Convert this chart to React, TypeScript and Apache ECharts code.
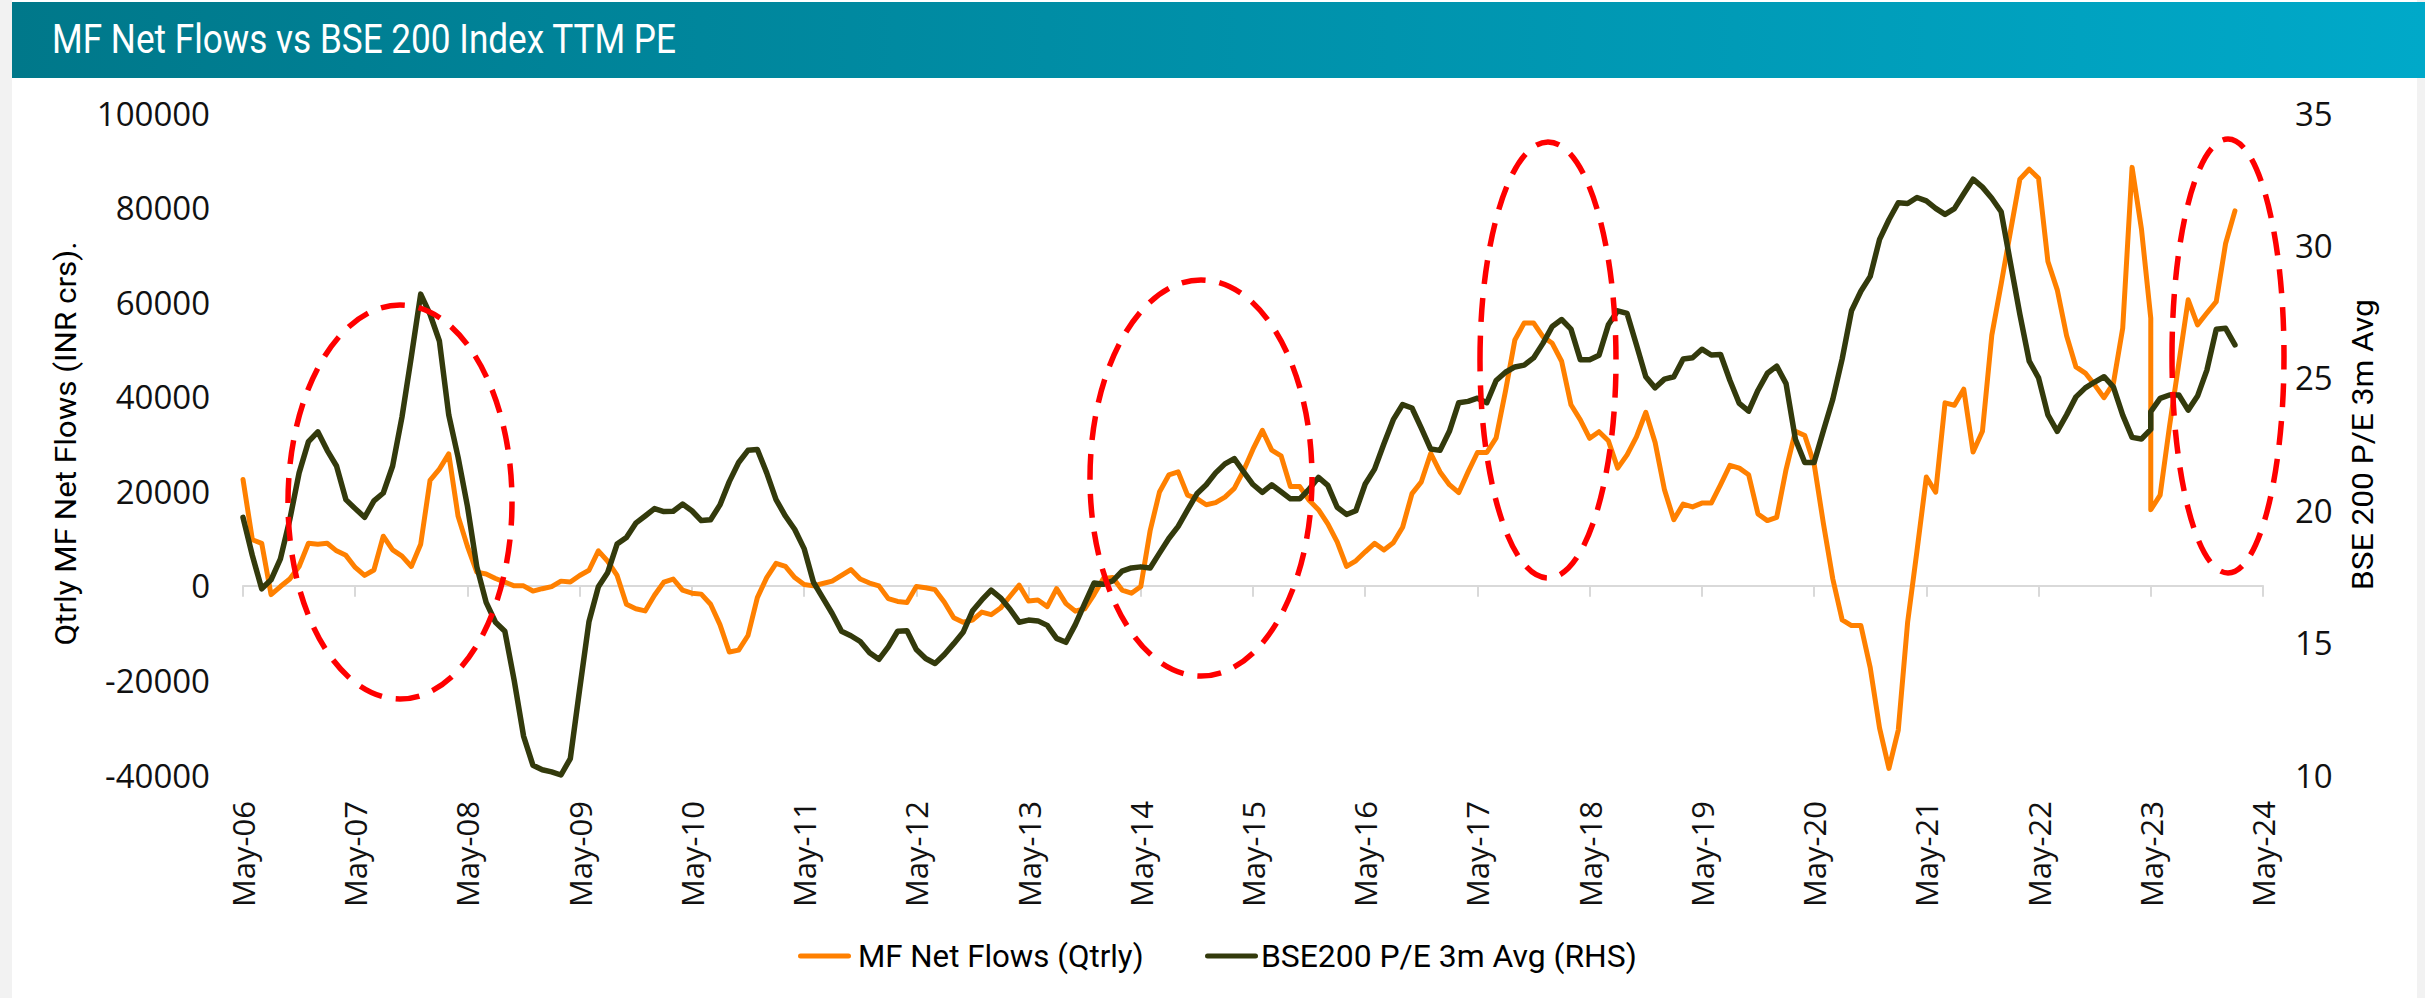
import React, { useEffect, useRef } from 'react';
import * as echarts from 'echarts';

const TITLE = 'MF Net Flows vs BSE 200 Index TTM PE';
const LEFT_AXIS_NAME = 'Qtrly MF Net Flows (INR crs).';
const RIGHT_AXIS_NAME = 'BSE 200 P/E 3m Avg';
const SERIES_NAMES = ['MF Net Flows (Qtrly)', 'BSE200 P/E 3m Avg (RHS)'];
const X_TICK_LABELS = [
  'May-06', 'May-07', 'May-08', 'May-09', 'May-10', 'May-11', 'May-12', 'May-13', 'May-14', 'May-15',
  'May-16', 'May-17', 'May-18', 'May-19', 'May-20', 'May-21', 'May-22', 'May-23', 'May-24',
];
const LEFT_RANGE = [-40000, 100000, 20000];
const RIGHT_RANGE = [10, 35, 5];

// Monthly observations May-2006 .. Feb-2024; May-2023 appears twice in the source data.
const FIRST_YEAR = 2006;
const FIRST_MONTH = 5;
const MONTH_COUNT = 214;
const REPEATED_MONTH = '2023-05';

// Quarterly MF net flows (INR crs), one row per calendar year
const flows = [
  22500, 9760, 9000, -1850, -150, 1450, 4100, 9000,
  8800, 9000, 7400, 6450, 3900, 2200, 3350, 10500, 7600, 6300, 4100, 8800,
  22300, 24700, 27900, 14700, 8350, 2900, 2500, 1550, 800, 0, 0, -1100,
  -600, -150, 1000, 800, 2200, 3300, 7400, 5200, 2200, -3900, -4850, -5300,
  -2000, 800, 1450, -900, -1550, -1750, -3900, -8200, -14000, -13600, -10500, -2500,
  1750, 4750, 4100, 1750, 300, 0, 500, 1000, 2200, 3450, 1450, 600,
  0, -2700, -3300, -3500, -150, -400, -800, -3450, -6750, -7700, -7250, -5550,
  -6100, -4700, -2250, 150, -3200, -3000, -4400, -600, -3750, -5350, -4850, -1850,
  1550, 1750, -900, -1550, -150, 11650, 19850, 23450, 24100, 19200, 18450, 17150,
  17600, 18750, 20600, 24400, 28900, 32900, 28700, 27500, 21000, 21000, 18100, 16100,
  13100, 9300, 4100, 5300, 7200, 9000, 7600, 9100, 12400, 19500, 22000, 28000,
  24100, 21400, 19700, 24100, 28200, 28200, 31300, 41200, 52000, 55600, 55600, 52700,
  51300, 47500, 38300, 35100, 31200, 32600, 30700, 24900, 27700, 31500, 36700, 30300,
  20300, 14000, 17300, 16700, 17500, 17500, 21400, 25500, 24900, 23500, 15200, 13800,
  14500, 24600, 32700, 31800, 25800, 13100, 1450, -7200, -8400, -8400, -17300, -30100,
  -38600, -30500, -7700, 7400, 23000, 19800, 38700, 38200, 41600, 28300, 32700, 53000,
  63800, 75000, 86000, 88100, 86200, 68600, 62600, 52900, 46300, 45000, 42500, 39800,
  42800, 54500, 88500, 75500, 56600, 16100, 19200, 33700, 47100, 60500, 55200, 57700, 60100,
  72400, 79300,
];

// BSE200 P/E, 3-month average
const pe = [
  19.73, 18.29, 17.03, 17.37, 18.16, 19.64, 21.41, 22.59,
  22.96, 22.26, 21.67, 20.4, 20.06, 19.73, 20.35, 20.65, 21.67, 23.52, 25.8, 28.16,
  27.4, 26.39, 23.6, 22.0, 20.15, 17.87, 16.52, 15.77, 15.43, 13.57, 11.47, 10.37,
  10.2, 10.12, 10.0, 10.62, 13.24, 15.8, 17.11, 17.65, 18.72, 18.97, 19.51, 19.78,
  20.06, 19.95, 19.96, 20.23, 19.98, 19.61, 19.64, 20.2, 21.08, 21.8, 22.26, 22.29,
  21.41, 20.4, 19.78, 19.27, 18.55, 17.28, 16.69, 16.1, 15.43, 15.26, 15.04, 14.62,
  14.37, 14.84, 15.43, 15.45, 14.74, 14.4, 14.21, 14.55, 14.96, 15.39, 16.19, 16.61,
  16.98, 16.69, 16.27, 15.77, 15.85, 15.82, 15.65, 15.16, 15.01, 15.68, 16.47, 17.25,
  17.2, 17.33, 17.7, 17.82, 17.86, 17.82, 18.38, 18.93, 19.39, 20.01, 20.62, 20.96,
  21.41, 21.75, 21.95, 21.45, 20.97, 20.67, 20.96, 20.7, 20.43, 20.43, 20.79, 21.24,
  20.94, 20.11, 19.84, 19.98, 20.99, 21.55, 22.51, 23.42, 23.99, 23.86, 23.1, 22.31,
  22.26, 22.98, 24.06, 24.11, 24.23, 24.06, 24.9, 25.21, 25.41, 25.48, 25.75, 26.3,
  26.94, 27.2, 26.84, 25.68, 25.68, 25.85, 27.0, 27.53, 27.43, 26.25, 25.04, 24.62,
  24.95, 25.04, 25.71, 25.76, 26.08, 25.86, 25.88, 24.9, 24.03, 23.74, 24.53, 25.17,
  25.44, 24.78, 22.68, 21.8, 21.8, 23.01, 24.19, 25.71, 27.53, 28.27, 28.83, 30.23,
  30.97, 31.61, 31.58, 31.81, 31.68, 31.4, 31.17, 31.39, 31.95, 32.5, 32.2, 31.78,
  31.27, 29.33, 27.4, 25.63, 25.0, 23.6, 22.98, 23.6, 24.28, 24.62, 24.84, 25.04,
  24.66, 23.59, 22.75, 22.69, 23.05, 23.72, 24.22, 24.35, 24.35, 23.78, 24.31, 25.29, 26.83,
  26.87, 26.24,
];

function buildDates(): string[] {
  const out: string[] = [];
  for (let i = 0; i < MONTH_COUNT; i++) {
    const t = FIRST_MONTH - 1 + i;
    const d = `${FIRST_YEAR + Math.floor(t / 12)}-${String((t % 12) + 1).padStart(2, '0')}`;
    out.push(d);
    if (d === REPEATED_MONTH) out.push(d);
  }
  return out;
}
const dates = buildDates();

function monthIndex(d: string): number {
  const [y, m] = d.split('-').map(Number);
  return (y - FIRST_YEAR) * 12 + (m - FIRST_MONTH);
}

function textWidth(text: string, font: string): number {
  const ctx = document.createElement('canvas').getContext('2d');
  if (!ctx) return text.length * 10;
  ctx.font = font;
  return ctx.measureText(text).width;
}

const COND_FONT = 'Roboto';
function condensed(text: string, size: number, target: number) {
  const w = textWidth(text, `${size}px ${COND_FONT}`);
  return w > 0 ? target / w : 1;
}

const ORANGE = '#ff8000';
const OLIVE = '#333a0c';

export default function App() {
  const ref = useRef<HTMLDivElement>(null);

  useEffect(() => {
    document.body.style.margin = '0';
    if (!ref.current) return;
    const chart = echarts.init(ref.current, undefined, { renderer: 'svg' });

    const flowData = flows.map((v, i) => [monthIndex(dates[i]), v]);
    const peData = pe.map((v, i) => [monthIndex(dates[i]), v]);

    const labelFont = '"Open Sans", sans-serif';
    const textStyle = (size: number, fill = '#000') => ({
      fontSize: size,
      fontFamily: COND_FONT,
      fill,
    });

    const ellipse = (cx: number, cy: number, rx: number, ry: number) => ({
      type: 'ellipse',
      z: 100,
      silent: true,
      shape: { cx, cy, rx, ry },
      style: { fill: 'none', stroke: '#ff0000', lineWidth: 5.5, lineDash: [24, 14] },
    });

    const option: any = {
      animation: false,
      backgroundColor: '#f2f2f2',
      grid: { left: 243, right: 162, top: 113, bottom: 223, containLabel: false },
      xAxis: [
        {
          type: 'value',
          position: 'bottom',
          min: 0,
          max: (X_TICK_LABELS.length - 1) * 12,
          interval: 12,
          axisLine: { show: false, onZero: false },
          axisTick: { show: false },
          splitLine: { show: false },
          axisLabel: {
            rotate: 90,
            margin: 26,
            fontSize: 31,
            fontFamily: labelFont,
            color: '#111',
            showMinLabel: true,
            showMaxLabel: true,
            formatter: (v: number) => X_TICK_LABELS[Math.round(v / 12)] ?? '',
          },
        },
        {
          type: 'value',
          position: 'top',
          min: 0,
          max: (X_TICK_LABELS.length - 1) * 12,
          interval: 12,
          axisLine: { show: true, onZero: true, onZeroAxisIndex: 0, lineStyle: { color: '#d9d9d9', width: 2 } },
          axisTick: { show: true, inside: true, length: 11, lineStyle: { color: '#d9d9d9', width: 2 } },
          axisLabel: { show: false },
          splitLine: { show: false },
        },
      ],
      yAxis: [
        {
          type: 'value',
          position: 'left',
          min: LEFT_RANGE[0],
          max: LEFT_RANGE[1],
          interval: LEFT_RANGE[2],
          axisLine: { show: false, onZero: false },
          axisTick: { show: false },
          splitLine: { show: false },
          axisLabel: {
            margin: 33,
            fontSize: 33,
            fontFamily: labelFont,
            color: '#111',
            formatter: (v: number) => String(v),
          },
        },
        {
          type: 'value',
          position: 'right',
          min: RIGHT_RANGE[0],
          max: RIGHT_RANGE[1],
          interval: RIGHT_RANGE[2],
          axisLine: { show: false, onZero: false },
          axisTick: { show: false },
          splitLine: { show: false },
          axisLabel: {
            margin: 32,
            fontSize: 33,
            fontFamily: labelFont,
            color: '#111',
            formatter: (v: number) => String(v),
          },
        },
      ],
      series: [
        {
          name: SERIES_NAMES[0],
          type: 'line',
          xAxisIndex: 0,
          yAxisIndex: 0,
          data: flowData,
          showSymbol: false,
          symbol: 'none',
          clip: false,
          z: 3,
          color: ORANGE,
          lineStyle: { color: ORANGE, width: 5, cap: 'round', join: 'round' },
        },
        {
          name: SERIES_NAMES[1],
          type: 'line',
          xAxisIndex: 0,
          yAxisIndex: 1,
          data: peData,
          showSymbol: false,
          symbol: 'none',
          clip: false,
          z: 4,
          color: OLIVE,
          lineStyle: { color: OLIVE, width: 5.5, cap: 'round', join: 'round' },
        },
      ],
      graphic: [
        {
          type: 'rect',
          z: -100,
          silent: true,
          shape: { x: 12, y: 0, width: 2405, height: 998 },
          style: { fill: '#ffffff' },
        },
        {
          type: 'rect',
          z: -90,
          silent: true,
          shape: { x: 12, y: 2, width: 2413, height: 76 },
          style: {
            fill: new echarts.graphic.LinearGradient(0, 0, 1, 0, [
              { offset: 0, color: '#00788a' },
              { offset: 1, color: '#00a9c9' },
            ]),
          },
        },
        {
          type: 'text',
          z: 10,
          x: 52,
          y: 39.5,
          scaleX: condensed(TITLE, 40, 625),
          style: { text: TITLE, ...textStyle(40, '#ffffff'), align: 'left', verticalAlign: 'middle' },
        },
        {
          type: 'text',
          z: 10,
          x: 66,
          y: 443.5,
          rotation: Math.PI / 2,
          scaleX: condensed(LEFT_AXIS_NAME, 30, 404),
          style: { text: LEFT_AXIS_NAME, ...textStyle(30), align: 'center', verticalAlign: 'middle' },
        },
        {
          type: 'text',
          z: 10,
          x: 2363,
          y: 444.5,
          rotation: Math.PI / 2,
          scaleX: condensed(RIGHT_AXIS_NAME, 30, 291),
          style: { text: RIGHT_AXIS_NAME, ...textStyle(30), align: 'center', verticalAlign: 'middle' },
        },
        {
          type: 'line',
          z: 10,
          shape: { x1: 800.5, y1: 956, x2: 848.5, y2: 956 },
          style: { stroke: ORANGE, lineWidth: 5, lineCap: 'round' },
        },
        {
          type: 'text',
          z: 10,
          x: 858,
          y: 956,
          scaleX: condensed(SERIES_NAMES[0], 32, 285.5),
          style: { text: SERIES_NAMES[0], ...textStyle(32), align: 'left', verticalAlign: 'middle' },
        },
        {
          type: 'line',
          z: 10,
          shape: { x1: 1207.5, y1: 956, x2: 1255.5, y2: 956 },
          style: { stroke: OLIVE, lineWidth: 5, lineCap: 'round' },
        },
        {
          type: 'text',
          z: 10,
          x: 1261,
          y: 956,
          scaleX: condensed(SERIES_NAMES[1], 32, 376),
          style: { text: SERIES_NAMES[1], ...textStyle(32), align: 'left', verticalAlign: 'middle' },
        },
        ellipse(400, 502, 112, 197),
        ellipse(1201, 478, 111, 198),
        ellipse(1548, 360, 68, 218),
        ellipse(2228, 356, 56, 217),
      ],
    };

    chart.setOption(option);
    return () => chart.dispose();
  }, []);

  return <div ref={ref} style={{ width: 2425, height: 998 }} />;
}
